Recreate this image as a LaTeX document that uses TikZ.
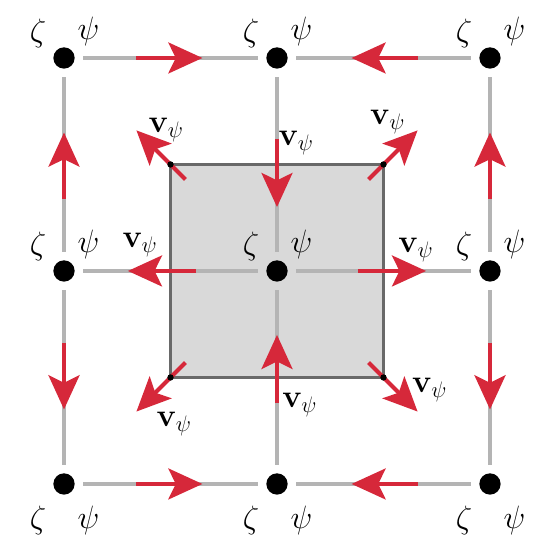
\documentclass[tikz,border=0pt]{standalone}
\usepackage{tikz}
\usetikzlibrary{arrows.meta, calc}
\definecolor{flowred}{RGB}{214,40,58}
\definecolor{gridgray}{RGB}{180,180,180}
\definecolor{cellgray}{RGB}{217,217,217}
\definecolor{edgegray}{RGB}{105,105,105}

\begin{document}
\begin{tikzpicture}[
        point/.style={circle, fill=black, minimum size=0.40cm, inner sep=0pt, outer sep=0.16cm},
        corner/.style={circle, fill=black, minimum size=0.12cm, inner sep=0pt},
        link/.style={gridgray, line width=2pt},
        flow/.style={-{Stealth[length=0.64cm, width=0.58cm, inset=0.14cm]}, flowred, line width=2.2pt},
        lbl/.style={font=\fontsize{17.28}{20}\selectfont, inner sep=0pt},
    ]
        \useasboundingbox (-1.202,-1.033) rectangle (9.127,9.089);

        % shaded cell
        \draw[fill=cellgray, draw=edgegray, line width=2pt] (2,6) rectangle (6,2);

        % grid points
        \node[point] (d11) at (0,8) {};
        \node[point] (d12) at (4,8) {};
        \node[point] (d13) at (8,8) {};
        \node[point] (d21) at (0,4) {};
        \node[point] (d22) at (4,4) {};
        \node[point] (d23) at (8,4) {};
        \node[point] (d31) at (0,0) {};
        \node[point] (d32) at (4,0) {};
        \node[point] (d33) at (8,0) {};

        \draw[link] (d11) -- (d12) -- (d13);
        \draw[link] (d21) -- (d22) -- (d23);
        \draw[link] (d31) -- (d32) -- (d33);
        \draw[link] (d11) -- (d21) -- (d31);
        \draw[link] (d12) -- (d22) -- (d32);
        \draw[link] (d13) -- (d23) -- (d33);

        % outer loop
        \draw[flow] ($(d11)!0.34!(d12)$) -- ($(d11)!0.65!(d12)$);
        \draw[flow] ($(d13)!0.34!(d12)$) -- ($(d13)!0.65!(d12)$);
        \draw[flow] ($(d31)!0.34!(d32)$) -- ($(d31)!0.65!(d32)$);
        \draw[flow] ($(d33)!0.34!(d32)$) -- ($(d33)!0.65!(d32)$);
        \draw[flow] ($(d21)!0.34!(d11)$) -- ($(d21)!0.65!(d11)$);
        \draw[flow] ($(d21)!0.34!(d31)$) -- ($(d21)!0.65!(d31)$);
        \draw[flow] ($(d23)!0.34!(d13)$) -- ($(d23)!0.65!(d13)$);
        \draw[flow] ($(d23)!0.34!(d33)$) -- ($(d23)!0.65!(d33)$);

        % across the cell
        \draw[flow] ($(d12)!0.38!(d22)$) -- ($(d12)!0.70!(d22)$);
        \draw[flow] ($(d32)!0.38!(d22)$) -- ($(d32)!0.70!(d22)$);
        \draw[flow] ($(d22)!0.38!(d21)$) -- ($(d22)!0.70!(d21)$);
        \draw[flow] ($(d22)!0.38!(d23)$) -- ($(d22)!0.70!(d23)$);
        \draw[flow] ($(d22)!0.43!(d11)$) -- ($(d22)!0.66!(d11)$);
        \draw[flow] ($(d22)!0.43!(d13)$) -- ($(d22)!0.66!(d13)$);
        \draw[flow] ($(d22)!0.43!(d31)$) -- ($(d22)!0.66!(d31)$);
        \draw[flow] ($(d22)!0.43!(d33)$) -- ($(d22)!0.66!(d33)$);

        \node[corner] (k1) at (2,6) {};
        \node[corner] (k2) at (6,6) {};
        \node[corner] (k3) at (2,2) {};
        \node[corner] (k4) at (6,2) {};

        % labels
        \foreach \d in {d11,d12,d13,d21,d22,d23} {
            \node[lbl] (z-\d) at ([shift={(-0.49,0.47)}]\d) {$\zeta$};
            \node[lbl] (p-\d) at ([shift={(0.46,0.49)}]\d) {$\psi$};
        }
        \foreach \d in {d31,d32,d33} {
            \node[lbl] (z-\d) at ([shift={(-0.49,-0.69)}]\d) {$\zeta$};
            \node[lbl] (p-\d) at ([shift={(0.46,-0.68)}]\d) {$\psi$};
        }

        \node[lbl] (v1) at (1.92,6.65) {$\mathbf{v}_\psi$};
        \node[lbl] (v2) at (6.08,6.80) {$\mathbf{v}_\psi$};
        \node[lbl] (v3) at (4.36,6.40) {$\mathbf{v}_\psi$};
        \node[lbl] (v4) at (1.43,4.49) {$\mathbf{v}_\psi$};
        \node[lbl] (v5) at (6.61,4.39) {$\mathbf{v}_\psi$};
        \node[lbl] (v6) at (2.07,1.13) {$\mathbf{v}_\psi$};
        \node[lbl] (v7) at (6.87,1.77) {$\mathbf{v}_\psi$};
        \node[lbl] (v8) at (4.43,1.48) {$\mathbf{v}_\psi$};
    \end{tikzpicture}
\end{document}
